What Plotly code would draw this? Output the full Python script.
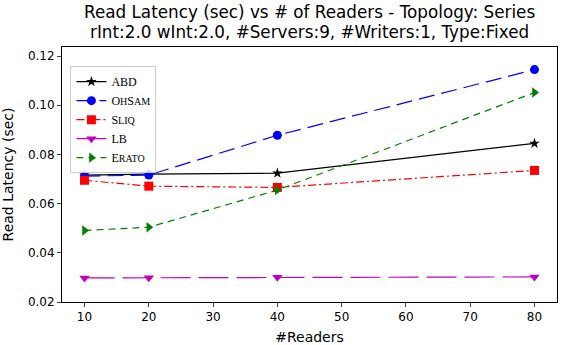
import plotly.graph_objects as go

readers = [10, 20, 40, 80]
abd = [0.0716, 0.0720, 0.0724, 0.0845]
ohsam = [0.0712, 0.0716, 0.0878, 0.1145]
sliq = [0.0695, 0.0671, 0.0666, 0.0735]
lb = [0.0298, 0.0299, 0.0301, 0.0302]
erato = [0.0491, 0.0504, 0.0655, 0.1052]

title_lines = ["Read Latency (sec) vs # of Readers - Topology: Series",
               "rInt:2.0 wInt:2.0, #Servers:9, #Writers:1, Type:Fixed"]


def small_caps(word):
    # fake small caps: first letter full size, rest upper case and smaller
    out = ""
    for ch in word:
        if ch.isupper():
            out += ch
        else:
            out += "<span style='font-size:10px'>" + ch.upper() + "</span>"
    return out


series = [
    ("ABD", abd, "black", "solid", "star", 8),
    (small_caps("OhSam"), ohsam, "blue", "16px,7px", "circle", 9),
    (small_caps("Sliq"), sliq, "red", "8px,3px,2px,3px", "square", 9),
    ("LB", lb, "#bf00bf", "30px,8px", "triangle-down", 9),
    (small_caps("Erato"), erato, "green", "7px,5px", "triangle-right", 9),
]

fig = go.Figure()
for name, vals, color, dash, symbol, msize in series:
    fig.add_trace(go.Scatter(x=readers, y=vals, name=name, mode="lines+markers",
                             line=dict(color=color, width=1.2, dash=dash),
                             marker=dict(symbol=symbol, size=msize, color=color)))

# two-line title as annotations, centred over the plot area
for i, line in enumerate(title_lines):
    fig.add_annotation(text=line, xref="paper", yref="paper", x=0.5, y=1 + (35 - 20 * i) / 255,
                       xanchor="center", yanchor="middle", showarrow=False,
                       font=dict(size=16.8, family="DejaVu Sans"))

fig.update_layout(
    width=566, height=345,
    margin=dict(l=62, r=9, t=47, b=43, autoexpand=False),
    plot_bgcolor="white", paper_bgcolor="white",
    font=dict(family="DejaVu Sans", size=12, color="black"),
    legend=dict(x=0.017, y=0.925, xanchor="left", yanchor="top",
                bordercolor="#cccccc", borderwidth=1, bgcolor="rgba(255,255,255,0.8)",
                font=dict(family="Liberation Serif", size=12), tracegroupgap=0,
                itemwidth=30),
)
fig.update_xaxes(range=[6.5, 83.5], tickvals=[10, 20, 30, 40, 50, 60, 70, 80],
                 ticks="outside", ticklen=4, showgrid=False, zeroline=False,
                 showline=True, linecolor="black", mirror=True, automargin=False,
                 title=dict(text="#Readers", standoff=9), tickfont=dict(size=12))
fig.update_yaxes(range=[0.02, 0.1237], tickvals=[0.02, 0.04, 0.06, 0.08, 0.10, 0.12],
                 tickformat=".2f", ticks="outside", ticklen=4, showgrid=False, zeroline=False,
                 showline=True, linecolor="black", mirror=True, automargin=False,
                 title=dict(text="Read Latency (sec)", standoff=10), tickfont=dict(size=12))

# the page body has a default 8px margin; drop it so the figure sits at the corner
fig.write_html("out.html", config={"displayModeBar": False},
               post_script="document.body.style.margin='0';")
